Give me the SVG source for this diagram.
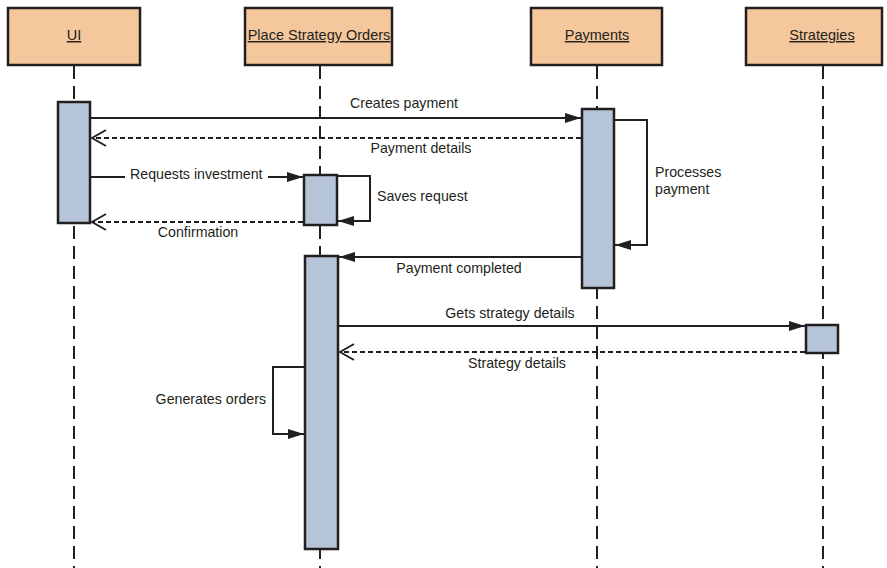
<svg xmlns="http://www.w3.org/2000/svg" width="887" height="568" viewBox="0 0 887 568">
<style>
.head{fill:#F5C79C;stroke:#231F20;stroke-width:2.5}
.ht{font-family:"Liberation Sans",Arial,sans-serif;font-size:14.5px;fill:#231F20;text-anchor:middle;text-decoration:underline}
.life{stroke:#231F20;stroke-width:2;stroke-dasharray:13 7;fill:none}
.act{fill:#B5C4D7;stroke:#231F20;stroke-width:2.5}
.msg{stroke:#231F20;stroke-width:2;fill:none}
.ret{stroke:#231F20;stroke-width:2;fill:none;stroke-dasharray:5 3}
.lbl{font-family:"Liberation Sans",Arial,sans-serif;font-size:14.2px;fill:#231F20}
</style>
<defs>
<marker id="solid" markerWidth="16" markerHeight="10" refX="16" refY="5" orient="auto" markerUnits="userSpaceOnUse">
<path d="M0,0 L16,5 L0,10 z" fill="#231F20"/>
</marker>
<marker id="open" markerWidth="16" markerHeight="18" refX="15" refY="9" orient="auto" markerUnits="userSpaceOnUse">
<path d="M1,1 L15,9 L1,17" fill="none" stroke="#231F20" stroke-width="2"/>
</marker>
</defs>
<g id="lifelines">
<line class="life" x1="74" y1="66" x2="74" y2="568"/>
<line class="life" x1="320" y1="66" x2="320" y2="568"/>
<line class="life" x1="597" y1="66" x2="597" y2="568"/>
<line class="life" x1="823" y1="66" x2="823" y2="568"/>
</g>
<g id="UI">
<rect class="head" x="8" y="8" width="132" height="57"/>
<text class="ht" x="74" y="40">UI</text>
<rect class="act" x="58" y="102" width="32" height="121"/>
</g>
<g id="PlaceStrategyOrders">
<rect class="head" x="245" y="8" width="147" height="57"/>
<text class="ht" x="319" y="40">Place Strategy Orders</text>
<rect class="act" x="304" y="175" width="33" height="50"/>
<rect class="act" x="305" y="256" width="33" height="293"/>
</g>
<g id="Payments">
<rect class="head" x="531" y="8" width="131" height="57"/>
<text class="ht" x="597" y="40">Payments</text>
<rect class="act" x="582" y="109" width="32" height="179"/>
</g>
<g id="Strategies">
<rect class="head" x="746" y="8" width="136" height="57"/>
<text class="ht" x="822" y="40">Strategies</text>
<rect class="act" x="806" y="325" width="32" height="28"/>
</g>
<g id="connectors">
<line class="msg" x1="91" y1="118" x2="581" y2="118" marker-end="url(#solid)"/>
<line class="ret" x1="581" y1="138" x2="92" y2="138" marker-end="url(#open)"/>
<line class="msg" x1="91" y1="177" x2="125" y2="177"/>
<line class="msg" x1="268" y1="177" x2="303" y2="177" marker-end="url(#solid)"/>
<polyline class="msg" points="338,176 370,176 370,221 338,221" marker-end="url(#solid)"/>
<line class="ret" x1="303" y1="222" x2="92" y2="222" marker-end="url(#open)"/>
<polyline class="msg" points="615,120 647,120 647,245 615,245" marker-end="url(#solid)"/>
<line class="msg" x1="581" y1="257" x2="339" y2="257" marker-end="url(#solid)"/>
<line class="msg" x1="339" y1="326" x2="805" y2="326" marker-end="url(#solid)"/>
<line class="ret" x1="805" y1="352" x2="340" y2="352" marker-end="url(#open)"/>
<polyline class="msg" points="304,367 273,367 273,434 304,434" marker-end="url(#solid)"/>
</g>
<g id="labels">
<text class="lbl" x="404" y="108" text-anchor="middle">Creates payment</text>
<text class="lbl" x="421" y="153" text-anchor="middle">Payment details</text>
<text class="lbl" x="130" y="179">Requests investment</text>
<text class="lbl" x="377" y="201">Saves request</text>
<text class="lbl" x="198" y="237" text-anchor="middle">Confirmation</text>
<text class="lbl" x="655" y="177">Processes</text>
<text class="lbl" x="655" y="194">payment</text>
<text class="lbl" x="459" y="273" text-anchor="middle">Payment completed</text>
<text class="lbl" x="510" y="318" text-anchor="middle">Gets strategy details</text>
<text class="lbl" x="517" y="368" text-anchor="middle">Strategy details</text>
<text class="lbl" x="266" y="404" text-anchor="end">Generates orders</text>
</g>
</svg>
